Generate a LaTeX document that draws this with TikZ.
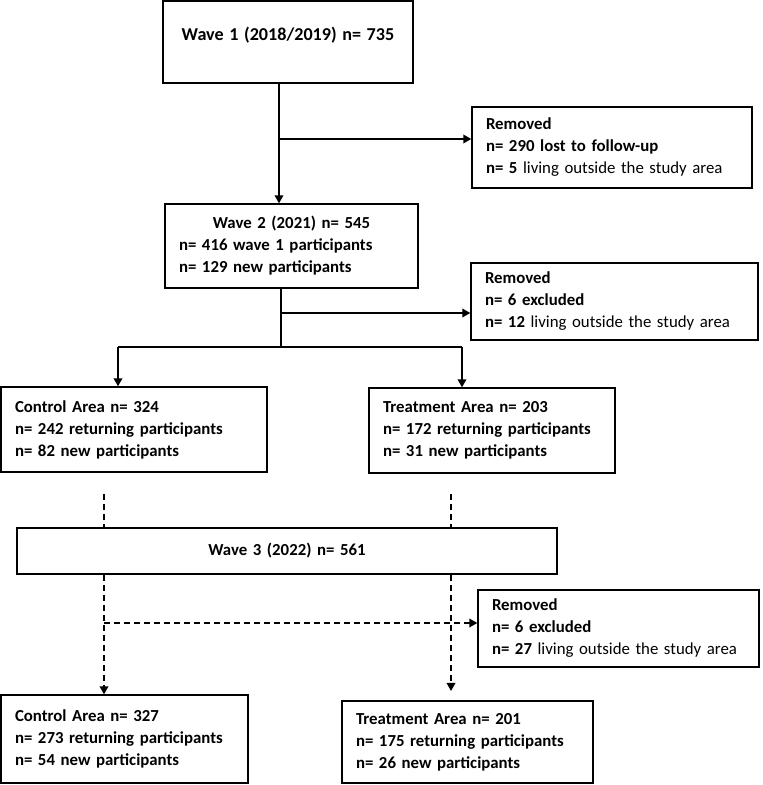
\documentclass[tikz,border=0pt]{standalone}
\usepackage{fontspec}
\setmainfont{Carlito}
\usetikzlibrary{arrows.meta,positioning}

\tikzset{
  box/.style={draw, line width=1.1pt, inner xsep=10.5pt, inner ysep=0pt,
    align=left, font=\fontsize{12.6}{16.5}\selectfont\bfseries},
  boxsize/.style 2 args={minimum width=#1*0.75pt, minimum height=#2*0.75pt,
    text width=#1*0.75pt-21pt},
  arr/.style={line width=1.1pt, -{Triangle[length=6pt,width=6.5pt]}},
  link/.style={line width=1.1pt},
  dashline/.style={line width=1.1pt, dash pattern=on 4.5pt off 3pt}
}

\begin{document}
\begin{tikzpicture}[x=0.75pt,y=-0.75pt]
  \useasboundingbox (0,0) rectangle (763,785);

  % wave 1 and 2
  \node[box, boxsize={250}{82}] (w1) at (288,42)
    {\hspace*{\fill}\raisebox{5pt}[0.8em][0.2em]{\fontsize{13.6}{16.5}\selectfont Wave 1 (2018/2019) n= 735}\hspace*{\fill}\null};
  \node[box, boxsize={280}{81}] (r1) at (612,147.5)
    {Removed\\ n= 290 lost to follow-up\\ n= 5 \textmd{living outside the study area}};
  \node[box, boxsize={253}{84}] (w2) at (291.5,246)
    {\hspace*{\fill}Wave 2 (2021) n= 545\hspace*{\fill}\null\\ n= 416 wave 1 participants\\ n= 129 new participants};
  \node[box, boxsize={287}{77}] (r2) at (614.5,301.5)
    {Removed\\ n= 6 excluded\\ n= 12 \textmd{living outside the study area}};

  % areas after wave 2
  \node[box, boxsize={266}{85}] (c1) at (134,429.5)
    {Control Area n= 324\\ n= 242 returning participants\\ n= 82 new participants};
  \node[box, boxsize={246}{85}] (t1) at (492,430.5)
    {Treatment Area n= 203\\ n= 172 returning participants\\ n= 31 new participants};

  % wave 3
  \node[box, boxsize={540}{46}, align=center] (w3) at (287,551) {Wave 3 (2022) n= 561};
  \node[box, boxsize={281}{77}] (r3) at (618.5,628.5)
    {Removed\\ n= 6 excluded\\ n= 27 \textmd{living outside the study area}};
  \node[box, boxsize={247}{88}] (c2) at (124.5,739)
    {Control Area n= 327\\ n= 273 returning participants\\ n= 54 new participants};
  \node[box, boxsize={251}{82}] (t2) at (467.5,742)
    {Treatment Area n= 201\\ n= 175 returning participants\\ n= 26 new participants};

  \coordinate (j1) at (279,139);
  \coordinate (j2) at (281,313);
  \coordinate (j3) at (281,347);
  \coordinate (ca) at (118,347);
  \coordinate (ta) at (462,347);
  \coordinate (d1) at (104,494);
  \coordinate (d2) at (451,494);
  \coordinate (j4) at (104,623);

  \draw[arr] (w1.south -| j1) -- (w2.north -| j1);
  \draw[arr] (j1) -- (j1 -| r1.west);
  \draw[link] (w2.south -| j2) -- (j3);
  \draw[arr] (j2) -- (j2 -| r2.west);
  \draw[link] (ca) -- (ta);
  \draw[arr] (ca) -- (ca |- c1.north);
  \draw[arr] (ta) -- (ta |- t1.north);

  \draw[dashline] (d1) -- (d1 |- w3.north);
  \draw[dashline] (d2) -- (d2 |- w3.north);
  \draw[dashline, arr] (d1 |- w3.south) -- (d1 |- c2.north);
  \draw[dashline, arr] (d2 |- w3.south) -- ([yshift=7pt]d2 |- t2.north);
  \draw[dashline, arr] (j4) -- (j4 -| r3.west);
\end{tikzpicture}
\end{document}
